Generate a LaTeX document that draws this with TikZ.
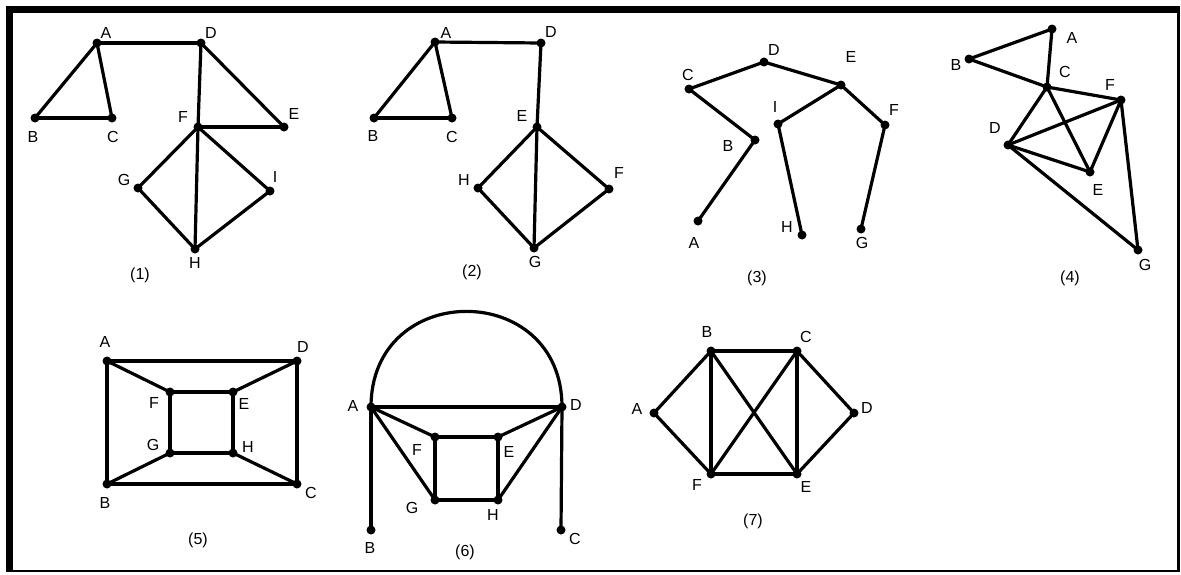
\documentclass[tikz,border=0pt]{standalone}
\usepackage{fontspec}
\setmainfont{Liberation Sans}
\begin{document}
\begin{tikzpicture}[x=1pt,y=-1pt,
  vtx/.style={circle,fill=black,inner sep=0pt,minimum size=9pt},
  lbl/.style={inner sep=0pt,font=\fontsize{16}{18}\selectfont},
  edge/.style={line width=3.2pt,black,line cap=round},
  framebar/.style={fill=black,draw=none}]
\useasboundingbox (0,0) rectangle (1181,574);
% frame
\fill[framebar] (6,5.5) rectangle (1179.5,12.5);
\fill[framebar] (6,5.5) rectangle (13,572);
\fill[framebar] (1177,5.5) rectangle (1179.5,572);
\fill[framebar] (6,569.5) rectangle (1179.5,572);

% ---------- graph (1)
\node[vtx] (g1A) at (97,43) {};
\node[vtx] (g1D) at (201,43) {};
\node[vtx] (g1B) at (35,118) {};
\node[vtx] (g1C) at (112,118) {};
\node[vtx] (g1F) at (198,127) {};
\node[vtx] (g1E) at (284,127) {};
\node[vtx] (g1G) at (138,188) {};
\node[vtx] (g1I) at (270,191) {};
\node[vtx] (g1H) at (195,249) {};
\draw[edge] (g1A.center) -- (g1D.center);
\draw[edge] (g1A.center) -- (g1B.center);
\draw[edge] (g1A.center) -- (g1C.center);
\draw[edge] (g1B.center) -- (g1C.center);
\draw[edge] (g1D.center) -- (g1F.center);
\draw[edge] (g1D.center) -- (g1E.center);
\draw[edge] (g1F.center) -- (g1E.center);
\draw[edge] (g1F.center) -- (g1G.center);
\draw[edge] (g1F.center) -- (g1H.center);
\draw[edge] (g1F.center) -- (g1I.center);
\draw[edge] (g1G.center) -- (g1H.center);
\draw[edge] (g1H.center) -- (g1I.center);
\node[lbl] (g1Al) at (106,33) {A};
\node[lbl] (g1Dl) at (211,33) {D};
\node[lbl] (g1Bl) at (33,137) {B};
\node[lbl] (g1Cl) at (113,137) {C};
\node[lbl] (g1Fl) at (183,117) {F};
\node[lbl] (g1El) at (294,114) {E};
\node[lbl] (g1Gl) at (124,180) {G};
\node[lbl] (g1Il) at (275,177) {I};
\node[lbl] (g1Hl) at (195,263) {H};
\node[lbl] (g1t) at (140,275) {(1)};

% ---------- graph (2)
\node[vtx] (g2A) at (435,42) {};
\node[vtx] (g2D) at (541,43) {};
\node[vtx] (g2B) at (374,118) {};
\node[vtx] (g2C) at (452,118) {};
\node[vtx] (g2E) at (537,127) {};
\node[vtx] (g2H) at (478,188) {};
\node[vtx] (g2F) at (609,189) {};
\node[vtx] (g2G) at (534,248) {};
\draw[edge] (g2A.center) -- (g2D.center);
\draw[edge] (g2A.center) -- (g2B.center);
\draw[edge] (g2A.center) -- (g2C.center);
\draw[edge] (g2B.center) -- (g2C.center);
\draw[edge] (g2D.center) -- (g2E.center);
\draw[edge] (g2E.center) -- (g2H.center);
\draw[edge] (g2E.center) -- (g2G.center);
\draw[edge] (g2E.center) -- (g2F.center);
\draw[edge] (g2H.center) -- (g2G.center);
\draw[edge] (g2F.center) -- (g2G.center);
\node[lbl] (g2Al) at (446,33) {A};
\node[lbl] (g2Dl) at (551,32) {D};
\node[lbl] (g2Bl) at (373,136) {B};
\node[lbl] (g2Cl) at (452,137) {C};
\node[lbl] (g2El) at (522,116) {E};
\node[lbl] (g2Hl) at (464,180) {H};
\node[lbl] (g2Fl) at (619,173) {F};
\node[lbl] (g2Gl) at (535,262) {G};
\node[lbl] (g2t) at (472,272) {(2)};

% ---------- graph (3)
\node[vtx] (g3D) at (764,62) {};
\node[vtx] (g3C) at (689,89) {};
\node[vtx] (g3E) at (841,85) {};
\node[vtx] (g3I) at (778,124) {};
\node[vtx] (g3F) at (885,125) {};
\node[vtx] (g3B) at (755,140) {};
\node[vtx] (g3A) at (698,221) {};
\node[vtx] (g3H) at (802,235) {};
\node[vtx] (g3G) at (861,229) {};
\draw[edge] (g3C.center) -- (g3D.center);
\draw[edge] (g3D.center) -- (g3E.center);
\draw[edge] (g3C.center) -- (g3B.center);
\draw[edge] (g3B.center) -- (g3A.center);
\draw[edge] (g3E.center) -- (g3I.center);
\draw[edge] (g3I.center) -- (g3H.center);
\draw[edge] (g3E.center) -- (g3F.center);
\draw[edge] (g3F.center) -- (g3G.center);
\node[lbl] (g3Dl) at (774,50) {D};
\node[lbl] (g3Cl) at (688,75) {C};
\node[lbl] (g3El) at (851,57) {E};
\node[lbl] (g3Il) at (775,107) {I};
\node[lbl] (g3Fl) at (894,110) {F};
\node[lbl] (g3Bl) at (728,146) {B};
\node[lbl] (g3Al) at (694,243) {A};
\node[lbl] (g3Hl) at (787,227) {H};
\node[lbl] (g3Gl) at (862,243) {G};
\node[lbl] (g3t) at (757,278) {(3)};

% ---------- graph (4)
\node[vtx] (g4A) at (1052,29) {};
\node[vtx] (g4B) at (969,59) {};
\node[vtx] (g4C) at (1047,87) {};
\node[vtx] (g4F) at (1121,100) {};
\node[vtx] (g4D) at (1008,145) {};
\node[vtx] (g4E) at (1090,172) {};
\node[vtx] (g4G) at (1138,250) {};
\draw[edge] (g4A.center) -- (g4B.center);
\draw[edge] (g4A.center) -- (g4C.center);
\draw[edge] (g4B.center) -- (g4C.center);
\draw[edge] (g4C.center) -- (g4F.center);
\draw[edge] (g4C.center) -- (g4D.center);
\draw[edge] (g4C.center) -- (g4E.center);
\draw[edge] (g4D.center) -- (g4F.center);
\draw[edge] (g4D.center) -- (g4E.center);
\draw[edge] (g4E.center) -- (g4F.center);
\draw[edge] (g4F.center) -- (g4G.center);
\draw[edge] (g4D.center) -- (g4G.center);
\node[lbl] (g4Al) at (1072,38) {A};
\node[lbl] (g4Bl) at (956,65) {B};
\node[lbl] (g4Cl) at (1065,72) {C};
\node[lbl] (g4Fl) at (1110,85) {F};
\node[lbl] (g4Dl) at (995,128) {D};
\node[lbl] (g4El) at (1098,190) {E};
\node[lbl] (g4Gl) at (1145,265) {G};
\node[lbl] (g4t) at (1070,278) {(4)};

% ---------- graph (5)
\node[vtx] (g5A) at (107,361) {};
\node[vtx] (g5D) at (297,361) {};
\node[vtx] (g5F) at (170,392) {};
\node[vtx] (g5E) at (233,392) {};
\node[vtx] (g5G) at (170,453) {};
\node[vtx] (g5H) at (233,453) {};
\node[vtx] (g5B) at (107,484) {};
\node[vtx] (g5C) at (297,484) {};
\draw[edge] (g5A.center) -- (g5D.center);
\draw[edge] (g5A.center) -- (g5B.center);
\draw[edge] (g5D.center) -- (g5C.center);
\draw[edge] (g5B.center) -- (g5C.center);
\draw[edge] (g5A.center) -- (g5F.center);
\draw[edge] (g5D.center) -- (g5E.center);
\draw[edge] (g5B.center) -- (g5G.center);
\draw[edge] (g5C.center) -- (g5H.center);
\draw[edge] (g5F.center) -- (g5E.center);
\draw[edge] (g5F.center) -- (g5G.center);
\draw[edge] (g5E.center) -- (g5H.center);
\draw[edge] (g5G.center) -- (g5H.center);
\node[lbl] (g5Al) at (105,342) {A};
\node[lbl] (g5Dl) at (303,347) {D};
\node[lbl] (g5Fl) at (154,403) {F};
\node[lbl] (g5El) at (244,404) {E};
\node[lbl] (g5Gl) at (153,445) {G};
\node[lbl] (g5Hl) at (248,447) {H};
\node[lbl] (g5Bl) at (105,503) {B};
\node[lbl] (g5Cl) at (311,493) {C};
\node[lbl] (g5t) at (198,540) {(5)};

% ---------- graph (6)
\node[vtx] (g6A) at (371,407) {};
\node[vtx] (g6D) at (562,407) {};
\node[vtx] (g6F) at (435,437) {};
\node[vtx] (g6E) at (498,437) {};
\node[vtx] (g6G) at (435,500) {};
\node[vtx] (g6H) at (498,500) {};
\node[vtx] (g6B) at (371,530) {};
\node[vtx] (g6C) at (561,530) {};
\draw[edge] (g6A.center) .. controls +(0,-127.5) and +(0,-127.5) .. (g6D.center);
\draw[edge] (g6A.center) -- (g6D.center);
\draw[edge] (g6A.center) -- (g6B.center);
\draw[edge] (g6D.center) -- (g6C.center);
\draw[edge] (g6A.center) -- (g6F.center);
\draw[edge] (g6A.center) -- (g6G.center);
\draw[edge] (g6D.center) -- (g6E.center);
\draw[edge] (g6D.center) -- (g6H.center);
\draw[edge] (g6F.center) -- (g6E.center);
\draw[edge] (g6F.center) -- (g6G.center);
\draw[edge] (g6E.center) -- (g6H.center);
\draw[edge] (g6G.center) -- (g6H.center);
\node[lbl] (g6Al) at (353,406) {A};
\node[lbl] (g6Dl) at (576,405) {D};
\node[lbl] (g6Fl) at (417,450) {F};
\node[lbl] (g6El) at (509,452) {E};
\node[lbl] (g6Gl) at (412,508) {G};
\node[lbl] (g6Hl) at (493,515) {H};
\node[lbl] (g6Bl) at (370,548) {B};
\node[lbl] (g6Cl) at (575,539) {C};
\node[lbl] (g6t) at (465,552) {(6)};

% ---------- graph (7)
\node[vtx] (g7B) at (711,351) {};
\node[vtx] (g7C) at (797,351) {};
\node[vtx] (g7A) at (654,413) {};
\node[vtx] (g7D) at (854,413) {};
\node[vtx] (g7F) at (711,474) {};
\node[vtx] (g7E) at (797,474) {};
\draw[edge] (g7A.center) -- (g7B.center);
\draw[edge] (g7A.center) -- (g7F.center);
\draw[edge] (g7B.center) -- (g7C.center);
\draw[edge] (g7B.center) -- (g7F.center);
\draw[edge] (g7B.center) -- (g7E.center);
\draw[edge] (g7C.center) -- (g7F.center);
\draw[edge] (g7C.center) -- (g7E.center);
\draw[edge] (g7C.center) -- (g7D.center);
\draw[edge] (g7D.center) -- (g7E.center);
\draw[edge] (g7F.center) -- (g7E.center);
\node[lbl] (g7Bl) at (707,332) {B};
\node[lbl] (g7Cl) at (806,337) {C};
\node[lbl] (g7Al) at (637,409) {A};
\node[lbl] (g7Dl) at (867,408) {D};
\node[lbl] (g7Fl) at (697,485) {F};
\node[lbl] (g7El) at (806,487) {E};
\node[lbl] (g7t) at (753,521) {(7)};
\end{tikzpicture}
\end{document}
